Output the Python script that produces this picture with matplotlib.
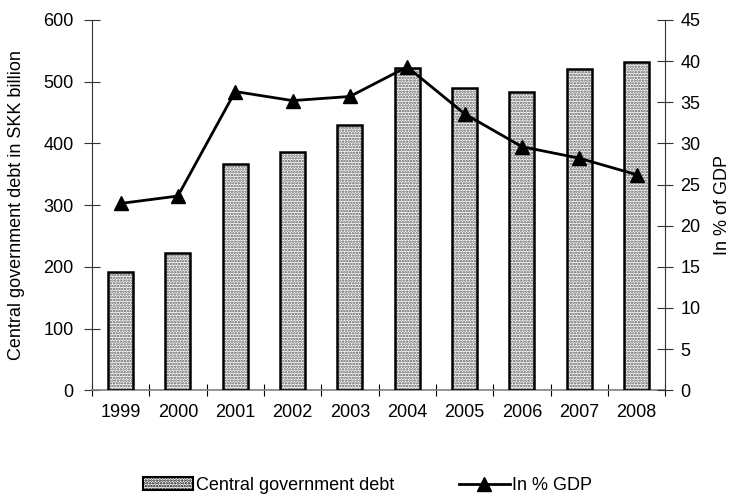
import matplotlib
matplotlib.use('Agg')
import matplotlib.pyplot as plt
from matplotlib.patches import Patch
from matplotlib.lines import Line2D

years = ['1999', '2000', '2001', '2002', '2003', '2004', '2005', '2006', '2007', '2008']
debt_skk = [192, 223, 366, 386, 429, 522, 490, 484, 521, 532]
debt_pct_gdp = [22.7, 23.6, 36.3, 35.2, 35.7, 39.3, 33.6, 29.6, 28.2, 26.2]

plt.rcParams['font.family'] = ['Liberation Sans', 'DejaVu Sans']
plt.rcParams['font.size'] = 13
plt.rcParams['hatch.linewidth'] = 1.2

fig = plt.figure(figsize=(7.35, 4.99), dpi=100)
ax = fig.add_axes([0.125, 0.218, 0.78, 0.742])
x = list(range(len(years)))

# dotted fill first, then the black outline on top
ax.bar(x, debt_skk, width=0.44, color='white', edgecolor='#555555',
       hatch='......', linewidth=0, zorder=2)
ax.bar(x, debt_skk, width=0.44, facecolor='none', edgecolor='black',
       linewidth=1.8, zorder=3)

ax.set_xlim(-0.5, len(years) - 0.5)
ax.set_ylim(0, 600)
ax.set_yticks(range(0, 601, 100))
ax.set_ylabel('Central government debt in SKK billion', labelpad=13)
ax.set_xticks(x)
ax.set_xticklabels(years)
ax.set_xticks([i + 0.5 for i in range(-1, len(years))], minor=True)
ax.tick_params(axis='x', which='major', length=0, pad=10)
ax.tick_params(axis='x', which='minor', direction='inout', length=9, color='black', width=0.8)
ax.tick_params(axis='y', direction='inout', length=12, width=0.8, color='#333333', pad=7)

ax.spines['top'].set_visible(False)
ax.spines['left'].set_color('#333333')
ax.spines['left'].set_linewidth(0.8)
ax.spines['bottom'].set_color('#808080')
ax.spines['bottom'].set_linewidth(1.2)
ax.spines['right'].set_visible(False)

ax2 = ax.twinx()
ax2.plot(x, debt_pct_gdp, color='black', linewidth=2, marker='^',
         markersize=10, zorder=4)
ax2.set_ylim(0, 45)
ax2.set_yticks(range(0, 46, 5))
ax2.set_ylabel('In % of GDP', labelpad=10)
ax2.tick_params(axis='y', direction='inout', length=12, width=0.8, color='#333333', pad=5)
ax2.spines['top'].set_visible(False)
ax2.spines['left'].set_visible(False)
ax2.spines['bottom'].set_visible(False)
ax2.spines['right'].set_color('#333333')
ax2.spines['right'].set_linewidth(0.8)

handles = [
    Patch(facecolor='white', edgecolor='black', hatch='......', linewidth=1.5),
    Line2D([0], [0], color='black', linewidth=2, marker='^', markersize=10),
]
fig.legend(handles, ['Central government debt', 'In % GDP'], loc='center',
           bbox_to_anchor=(0.5, 0.027), ncol=2, frameon=False,
           columnspacing=3.6, handlelength=2.8, handletextpad=0.15, borderpad=0)

fig.savefig('out.png', dpi=100)
plt.close(fig)
